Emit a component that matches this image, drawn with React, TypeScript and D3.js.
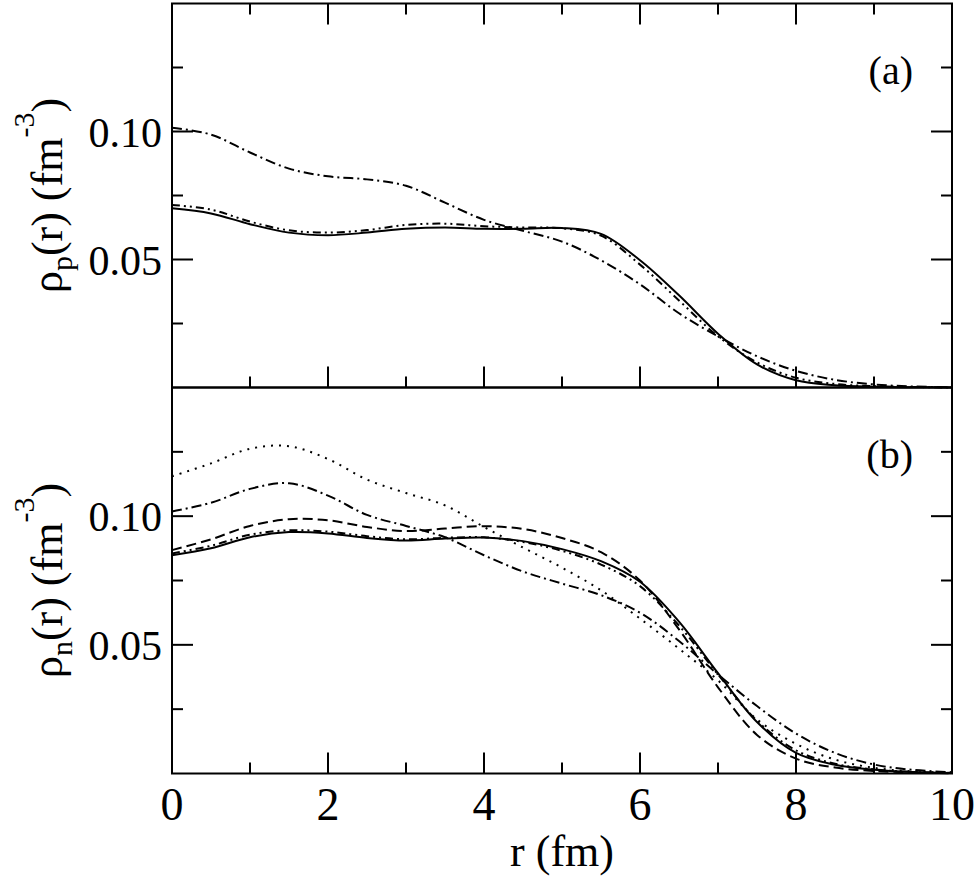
import { useEffect, useRef } from "react";
import * as d3 from "d3";

// radius grid (fm)
const R = [0, 0.5, 1, 1.5, 2, 2.5, 3, 3.5, 4, 4.5, 5, 5.5, 6, 6.5, 7, 7.5, 8, 8.5, 9, 9.5, 10];

// (a) proton densities
const protonSolid = [0.07, 0.068, 0.0638, 0.0605, 0.0595, 0.0605, 0.062, 0.0625, 0.062, 0.062, 0.0623, 0.06, 0.0497, 0.036, 0.021, 0.009, 0.0028, 0.0009, 0.0003, 0.0001, 0];
const protonDashDotDot = [0.0713, 0.0695, 0.0648, 0.0614, 0.0605, 0.0615, 0.0635, 0.064, 0.063, 0.0625, 0.0622, 0.0593, 0.048, 0.034, 0.02, 0.0098, 0.0038, 0.0014, 0.0005, 0.0002, 0];
const protonDashDot = [0.1015, 0.0988, 0.0918, 0.0855, 0.0825, 0.0813, 0.0788, 0.0722, 0.0655, 0.0612, 0.057, 0.0497, 0.0403, 0.029, 0.02, 0.0122, 0.0065, 0.003, 0.0012, 0.0004, 0.0001];

// (b) neutron densities
const neutronSolid = [0.0848, 0.0875, 0.0918, 0.0938, 0.0933, 0.0915, 0.0905, 0.0913, 0.0917, 0.0903, 0.0872, 0.0825, 0.0745, 0.059, 0.039, 0.02, 0.008, 0.0034, 0.0015, 0.0006, 0.0002];
const neutronDashed = [0.0868, 0.091, 0.0962, 0.0988, 0.0984, 0.0958, 0.0942, 0.0952, 0.0961, 0.095, 0.0915, 0.086, 0.075, 0.056, 0.0335, 0.015, 0.0058, 0.0023, 0.001, 0.0004, 0.0001];
const neutronDotted = [0.1155, 0.1205, 0.1262, 0.1272, 0.1222, 0.1142, 0.109, 0.1042, 0.0958, 0.0878, 0.08, 0.0712, 0.0602, 0.0485, 0.0362, 0.021, 0.0115, 0.0054, 0.0022, 0.0008, 0.0002];
const neutronDashDot = [0.1018, 0.1052, 0.1106, 0.1128, 0.108, 0.1005, 0.0962, 0.0918, 0.0848, 0.0785, 0.0738, 0.0693, 0.0625, 0.0515, 0.0385, 0.0262, 0.0155, 0.008, 0.0035, 0.0014, 0.0005];
const neutronDashDotDot = [0.0855, 0.0885, 0.0928, 0.0945, 0.094, 0.0922, 0.091, 0.0916, 0.0918, 0.09, 0.0865, 0.0812, 0.0728, 0.0575, 0.0385, 0.0205, 0.009, 0.0038, 0.0016, 0.0006, 0.0002];

const X_TICKS = [0, 2, 4, 6, 8, 10];
const Y_TICKS = [0.05, 0.1];

const SOLID = "none";
const DASHED = "10,5";
const DOTTED = "2,6";
const DASH_DOT = "10,4,2,4";
const DASH_DOT_DOT = "8,4,2,4,2,4";

const FONT = "'Liberation Serif', 'Times New Roman', serif";
const W = 977;
const H = 883;

const panels = [
  {
    tag: "(a)",
    sub: "p",
    range: [387.5, 3.5],
    series: [
      { values: protonSolid, dash: SOLID },
      { values: protonDashDotDot, dash: DASH_DOT_DOT },
      { values: protonDashDot, dash: DASH_DOT },
    ],
  },
  {
    tag: "(b)",
    sub: "n",
    range: [773.5, 387.5],
    series: [
      { values: neutronSolid, dash: SOLID },
      { values: neutronDashed, dash: DASHED },
      { values: neutronDotted, dash: DOTTED },
      { values: neutronDashDot, dash: DASH_DOT },
      { values: neutronDashDotDot, dash: DASH_DOT_DOT },
    ],
  },
];

export default function App() {
  const svgRef = useRef<SVGSVGElement>(null);

  useEffect(() => {
    if (!svgRef.current) return;
    const svg = d3.select(svgRef.current);
    svg.selectAll("*").remove();

    const x = d3.scaleLinear().domain([0, 10]).range([172, 952]);
    const left = x(0);
    const right = x(10);

    panels.forEach((p, pi) => {
      const y = d3.scaleLinear().domain([0, 0.15]).range(p.range);
      const top = y(0.15);
      const bottom = y(0);
      const g = svg.append("g");

      // curves
      const line = d3
        .line<number>()
        .x((_, i) => x(R[i]))
        .y((d) => y(d))
        .curve(d3.curveCatmullRom.alpha(0.5));
      p.series.forEach((s) => {
        g.append("path")
          .attr("d", line(s.values))
          .attr("fill", "none")
          .attr("stroke", "#000")
          .attr("stroke-width", 2)
          .attr("stroke-dasharray", s.dash);
      });

      // x ticks (bottom, inward; top only for first panel)
      d3.range(1, 10).forEach((v) => {
        const len = v % 2 === 0 ? 21 : 11;
        g.append("line")
          .attr("x1", x(v)).attr("x2", x(v))
          .attr("y1", bottom).attr("y2", bottom - len)
          .attr("stroke", "#000").attr("stroke-width", 2);
        if (pi === 0) {
          g.append("line")
            .attr("x1", x(v)).attr("x2", x(v))
            .attr("y1", top).attr("y2", top + len)
            .attr("stroke", "#000").attr("stroke-width", 2);
        }
      });

      // y ticks both sides
      [0.025, 0.05, 0.075, 0.1, 0.125].forEach((v) => {
        const len = Y_TICKS.includes(v) ? 21 : 11;
        g.append("line")
          .attr("x1", left).attr("x2", left + len)
          .attr("y1", y(v)).attr("y2", y(v))
          .attr("stroke", "#000").attr("stroke-width", 2);
        g.append("line")
          .attr("x1", right).attr("x2", right - len)
          .attr("y1", y(v)).attr("y2", y(v))
          .attr("stroke", "#000").attr("stroke-width", 2);
      });

      // y tick labels
      Y_TICKS.forEach((v) => {
        g.append("text")
          .attr("x", 162)
          .attr("y", y(v) + 15)
          .attr("text-anchor", "end")
          .style("font-family", FONT)
          .style("font-size", "42px")
          .text(v.toFixed(2));
      });

      // frame
      g.append("rect")
        .attr("x", left).attr("y", top)
        .attr("width", right - left).attr("height", bottom - top)
        .attr("fill", "none").attr("stroke", "#000").attr("stroke-width", 2);

      // panel tag
      g.append("text")
        .attr("x", 913)
        .attr("y", top + 80)
        .attr("text-anchor", "end")
        .style("font-family", FONT)
        .style("font-size", "40px")
        .text(p.tag);

      // y title
      const cy = (top + bottom) / 2;
      const t = g.append("text")
        .attr("transform", `translate(62,${cy}) rotate(-90)`)
        .attr("text-anchor", "middle")
        .style("font-family", FONT)
        .style("font-size", "44px");
      t.append("tspan").text("ρ");
      t.append("tspan").attr("dy", 10).style("font-size", "30px").text(p.sub);
      t.append("tspan").attr("dy", -10).text("(r) (fm");
      t.append("tspan").attr("dy", -28).style("font-size", "30px").text("-3");
      t.append("tspan").attr("dy", 28).text(")");

      // x tick labels on bottom panel
      if (pi === panels.length - 1) {
        X_TICKS.forEach((v) => {
          g.append("text")
            .attr("x", x(v))
            .attr("y", bottom + 46)
            .attr("text-anchor", "middle")
            .style("font-family", FONT)
            .style("font-size", "46px")
            .text(String(v));
        });
        g.append("text")
          .attr("x", (left + right) / 2)
          .attr("y", 866)
          .attr("text-anchor", "middle")
          .style("font-family", FONT)
          .style("font-size", "44px")
          .text("r (fm)");
      }
    });
  }, []);

  return (
    <svg
      ref={svgRef}
      width={W}
      height={H}
      style={{ position: "absolute", left: 0, top: 0, background: "#fff" }}
    />
  );
}
